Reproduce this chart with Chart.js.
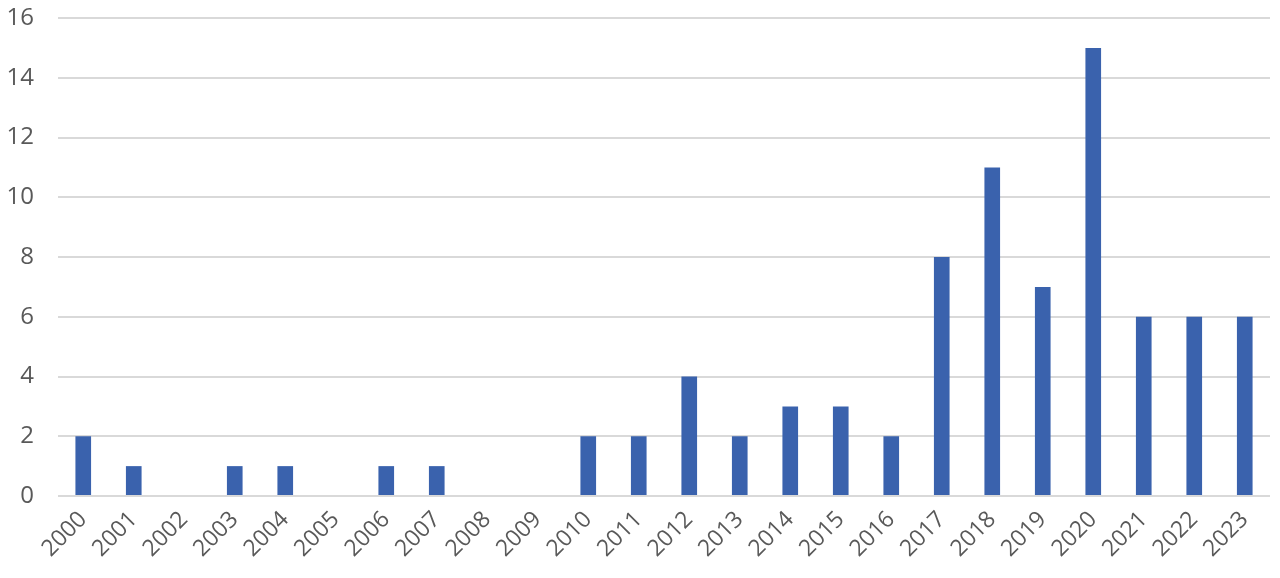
<!DOCTYPE html>
<html>
<head>
<meta charset="utf-8">
<script src="https://cdn.jsdelivr.net/npm/chart.js@4/dist/chart.umd.min.js"></script>
<style>
  html, body { margin: 0; padding: 0; background: #fff; }
  #wrap { width: 1280px; height: 578px; }
</style>
</head>
<body>
<div id="wrap"><canvas id="myChart" width="1280" height="578"></canvas></div>
<script>
const years = ['2000', '2001', '2002', '2003', '2004', '2005', '2006', '2007', '2008', '2009', '2010', '2011',
    '2012', '2013', '2014', '2015', '2016', '2017', '2018', '2019', '2020', '2021', '2022', '2023']
const counts = [2, 1, 0, 1, 1, 0, 1, 1, 0, 0, 2, 2, 4, 2, 3, 3, 2, 8, 11, 7, 15, 6, 6, 6]
const yMax = 16
const yStep = 2

const ctx = document.getElementById('myChart')
const chart = new Chart(ctx, {
    type: 'bar',
    data: {
        labels: years,
        datasets: [{
            data: counts,
            backgroundColor: '#3a62ad',
            barPercentage: 0.31,
            categoryPercentage: 1
        }]
    },
    options: {
        responsive: false,
        animation: false,
        layout: { padding: { top: 18, right: 10, left: 0, bottom: 0 } },
        plugins: {
            legend: { display: false },
            tooltip: { enabled: false }
        },
        scales: {
            x: {
                grid: { display: false },
                border: { display: false },
                ticks: {
                    color: '#595959',
                    font: { family: 'Open Sans', size: 23 },
                    minRotation: 45,
                    maxRotation: 45,
                    padding: 2
                },
                afterFit: (scale) => { scale.height = 82 }
            },
            y: {
                min: 0,
                max: yMax,
                grid: { color: '#d9d9d9', lineWidth: 2, drawTicks: false },
                border: { display: false },
                ticks: {
                    stepSize: yStep,
                    color: '#595959',
                    font: { family: 'Open Sans', size: 24 },
                    padding: 24
                },
                afterFit: (scale) => {
                    scale.width = 58
                    scale.paddingTop = 0
                    scale.paddingBottom = 0
                }
            }
        }
    }
})
</script>
</body>
</html>
